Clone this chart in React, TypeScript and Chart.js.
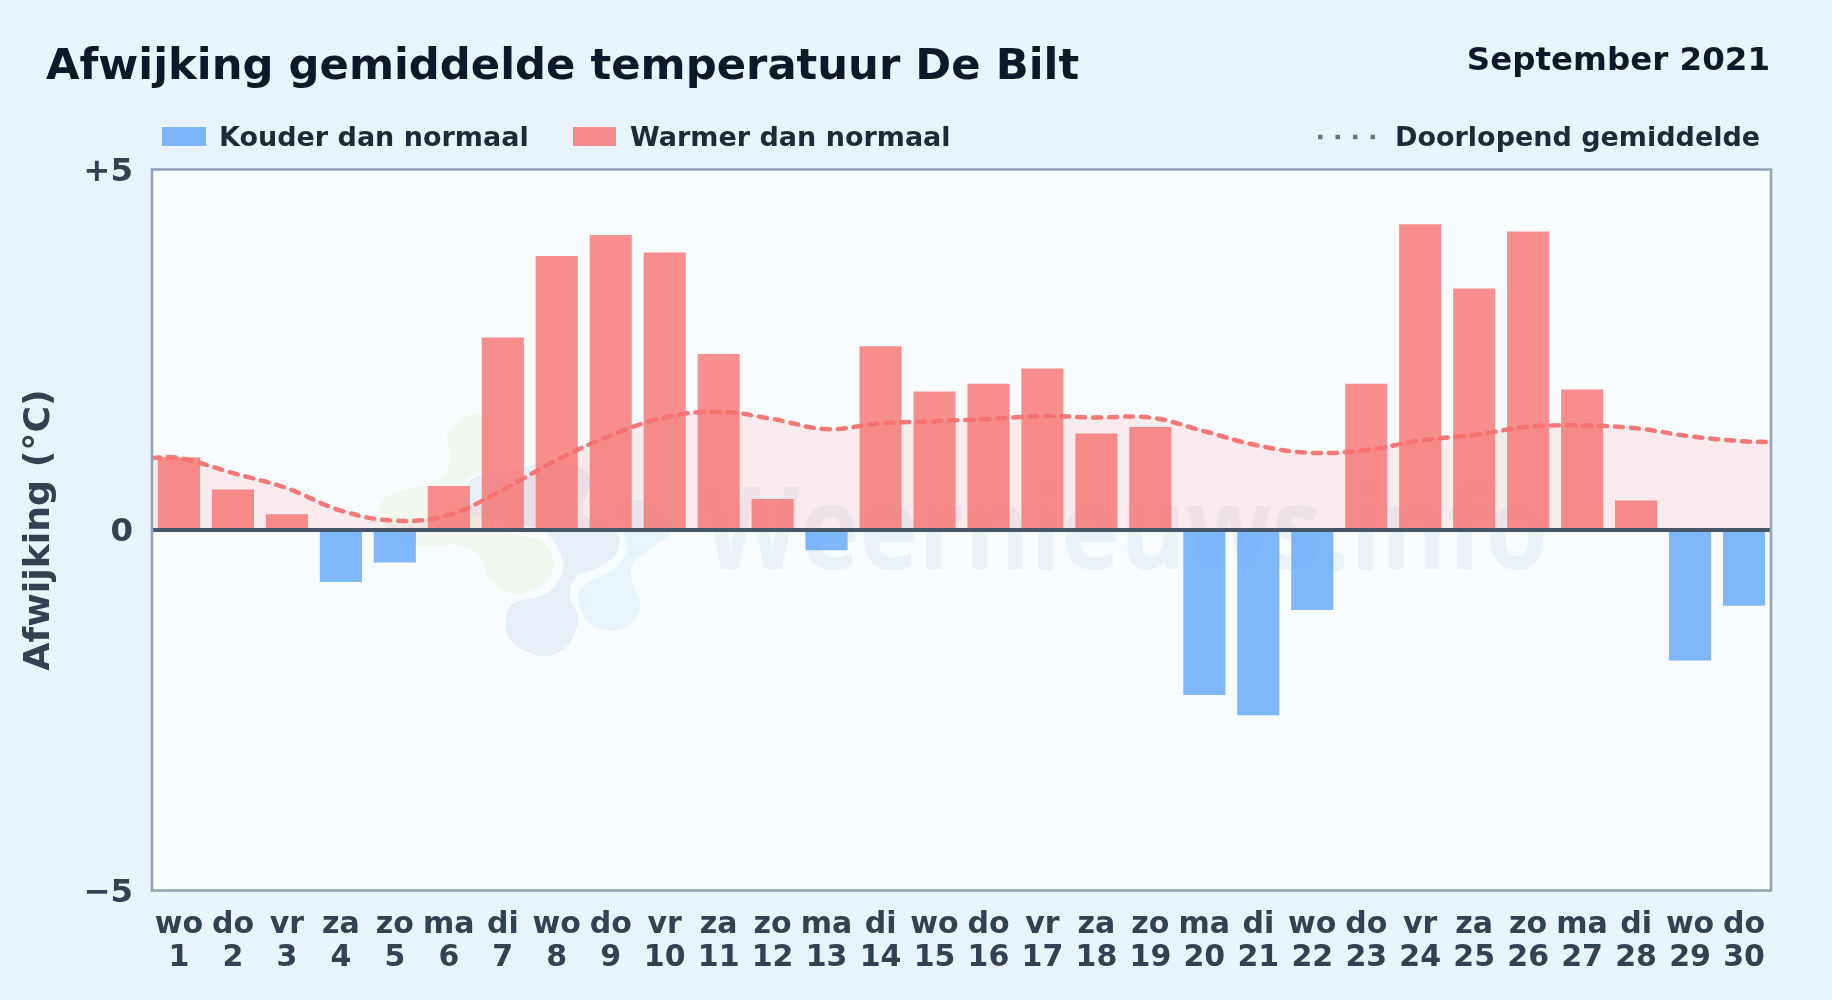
import React, { useEffect, useRef } from "react";
import { Chart, registerables } from "chart.js";

Chart.register(...registerables);

const weekdays = ["wo","do","vr","za","zo","ma","di","wo","do","vr","za","zo","ma","di","wo","do","vr","za","zo","ma","di","wo","do","vr","za","zo","ma","di","wo","do"];
const days = [1,2,3,4,5,6,7,8,9,10,11,12,13,14,15,16,17,18,19,20,21,22,23,24,25,26,27,28,29,30];
const deviation = [1.01,0.56,0.22,-0.72,-0.45,0.61,2.67,3.80,4.09,3.85,2.44,0.43,-0.28,2.55,1.92,2.03,2.24,1.34,1.43,-2.29,-2.57,-1.11,2.03,4.24,3.35,4.14,1.95,0.41,-1.81,-1.05];
const runningMeanX = [0.5,1,2,3,4,5,6,7,8,9,10,11,12,13,14,15,16,17,18,19,20,21,22,23,24,25,26,27,28,29,30,30.5];
const runningMean = [1.0,1.0,0.79,0.58,0.27,0.13,0.21,0.56,0.97,1.31,1.56,1.64,1.54,1.40,1.48,1.51,1.54,1.58,1.56,1.56,1.37,1.17,1.07,1.11,1.24,1.32,1.43,1.45,1.41,1.30,1.23,1.22];
const yTicks = [-5, 0, 5];
const yTickLabels = ["\u22125", "0", "+5"];

const FONT = '"DejaVu Sans", sans-serif';
const COLD = "rgba(96,165,250,0.8)";
const WARM = "rgba(248,113,113,0.8)";

const greenBlob = [[340,72],[400,120],[380,230],[330,260],[300,330],[420,420],[540,450],[582,520],[540,590],[460,612],[400,580],[350,490],[280,465],[190,470],[100,440],[60,360],[90,315],[190,285],[255,255],[270,190],[265,130]];
const greyBlob = [[345,262],[450,240],[600,215],[690,260],[670,370],[770,425],[770,490],[720,530],[650,560],[630,620],[655,690],[620,770],[545,798],[460,760],[437,700],[460,640],[560,610],[610,530],[560,430],[450,400],[330,370],[320,300]];
const blueBlob = [[830,330],[910,380],[930,430],[880,470],[820,520],[815,570],[842,650],[800,710],[740,722],[680,690],[655,620],[680,580],[760,540],[800,480],[790,425],[780,360]];

function blob(ctx: CanvasRenderingContext2D, pts: number[][], color: string) {
  const p = pts.map(([x, y]) => [360 + x / 3, 390 + y / 3]);
  const n = p.length;
  ctx.beginPath();
  ctx.moveTo(p[0][0], p[0][1]);
  for (let i = 0; i < n; i++) {
    const a = p[(i - 1 + n) % n], b = p[i], c = p[(i + 1) % n], d = p[(i + 2) % n];
    ctx.bezierCurveTo(b[0] + (c[0] - a[0]) / 6, b[1] + (c[1] - a[1]) / 6, c[0] - (d[0] - b[0]) / 6, c[1] - (d[1] - b[1]) / 6, c[0], c[1]);
  }
  ctx.closePath();
  ctx.fillStyle = color;
  ctx.fill();
}

const decorPlugin = {
  id: "decor",
  beforeDraw(chart: any) {
    const { ctx, chartArea: a, width, height } = chart;
    ctx.save();
    ctx.fillStyle = "#e9f3fc";
    ctx.fillRect(0, 0, width, height);
    ctx.fillStyle = "#f8fcff";
    ctx.fillRect(a.left, a.top, a.right - a.left, a.bottom - a.top);
    blob(ctx, greenBlob, "#f2f8f0");
    blob(ctx, greyBlob, "#e7f0f8");
    blob(ctx, blueBlob, "#e8f4fe");
    ctx.fillStyle = "rgba(37,99,170,0.06)";
    ctx.font = `700 115px "Open Sans", sans-serif`;
    ctx.textAlign = "left";
    ctx.textBaseline = "alphabetic";
    ctx.fillText("Weernieuws.info", 703, 569, 845);

    ctx.fillStyle = "#0f172a";
    ctx.font = `bold 43.3px ${FONT}`;
    ctx.fillText("Afwijking gemiddelde temperatuur De Bilt", 46, 79);
    ctx.font = `bold 32.5px ${FONT}`;
    ctx.textAlign = "right";
    ctx.fillText("September 2021", 1770, 70);

    ctx.textAlign = "left";
    ctx.font = `bold 27px ${FONT}`;
    ctx.fillStyle = COLD;
    ctx.fillRect(162, 127, 44, 19);
    ctx.fillStyle = WARM;
    ctx.fillRect(573, 127, 43, 19);
    ctx.fillStyle = "#1e293b";
    ctx.fillText("Kouder dan normaal", 219, 146);
    ctx.fillText("Warmer dan normaal", 630, 146);
    ctx.fillText("Doorlopend gemiddelde", 1395, 146);
    ctx.strokeStyle = "#64748b";
    ctx.lineWidth = 4.5;
    ctx.setLineDash([4.5, 13]);
    ctx.beginPath();
    ctx.moveTo(1318, 137);
    ctx.lineTo(1375, 137);
    ctx.stroke();
    ctx.restore();
  },
  afterDraw(chart: any) {
    const { ctx, chartArea: a } = chart;
    ctx.save();
    ctx.strokeStyle = "#94a3b8";
    ctx.lineWidth = 2.6;
    ctx.strokeRect(a.left, a.top, a.right - a.left, a.bottom - a.top);
    ctx.restore();
  },
};

export default function App() {
  const ref = useRef<HTMLCanvasElement>(null);
  useEffect(() => {
    const chart = new Chart(ref.current as HTMLCanvasElement, {
      type: "bar",
      data: {
        datasets: [
          {
            type: "line",
            label: "Doorlopend gemiddelde",
            data: runningMeanX.map((x, i) => ({ x, y: runningMean[i] })),
            borderColor: "rgba(248,113,113,0.95)",
            backgroundColor: "rgba(248,113,113,0.13)",
            borderWidth: 4.5,
            borderDash: [8, 8],
            borderCapStyle: "round",
            pointRadius: 0,
            tension: 0.4,
            fill: "origin",
            order: 0,
          },
          {
            label: "Kouder dan normaal",
            data: days.map((x, i) => ({ x, y: deviation[i] })).filter((d) => d.y < 0),
            backgroundColor: COLD,
            barPercentage: 0.78,
            categoryPercentage: 1,
            grouped: false,
            order: 1,
          },
          {
            label: "Warmer dan normaal",
            data: days.map((x, i) => ({ x, y: deviation[i] })).filter((d) => d.y >= 0),
            backgroundColor: WARM,
            barPercentage: 0.78,
            categoryPercentage: 1,
            grouped: false,
            order: 1,
          },
        ],
      } as any,
      options: {
        responsive: false,
        animation: false,
        devicePixelRatio: 1,
        layout: { padding: { top: 169.5, right: 61, left: 0, bottom: 0 } },
        plugins: { legend: { display: false }, title: { display: false }, tooltip: { enabled: false } },
        scales: {
          x: {
            type: "linear",
            offset: false,
            min: 0.5,
            max: 30.5,
            afterBuildTicks: (s: any) => { s.ticks = days.map((value) => ({ value })); },
            afterFit: (s: any) => { s.height = 109.5; },
            grid: { display: false },
            border: { display: false },
            ticks: {
              autoSkip: false,
              maxRotation: 0,
              padding: 10,
              color: "#334155",
              font: { family: FONT, weight: "bold", size: 30, lineHeight: 1.1 },
              callback: (v: any) => [weekdays[v - 1], String(v)],
            },
          },
          y: {
            min: -5,
            max: 5,
            afterBuildTicks: (s: any) => { s.ticks = yTicks.map((value) => ({ value })); },
            afterFit: (s: any) => { s.width = 152; },
            border: { display: false },
            grid: {
              z: 1,
              drawTicks: false,
              lineWidth: 4,
              color: (c: any) => (c.tick && c.tick.value === 0 ? "#475569" : "rgba(0,0,0,0)"),
            },
            ticks: {
              padding: 19,
              labelOffset: 3,
              color: "#334155",
              font: { family: FONT, weight: "bold", size: 32.4 },
              callback: (v: any) => yTickLabels[yTicks.indexOf(v)],
            },
            title: {
              display: true,
              text: "Afwijking (\u00b0C)",
              color: "#334155",
              font: { family: FONT, weight: "bold", size: 36.3 },
              padding: { top: 18, bottom: 0 },
            },
          },
        },
      } as any,
      plugins: [decorPlugin as any],
    });
    return () => chart.destroy();
  }, []);
  return (
    <>
      <style>{`html,body{margin:0;padding:0;background:#e9f3fc;overflow:hidden}`}</style>
      <canvas ref={ref} width={1832} height={1000} style={{ display: "block" }} />
    </>
  );
}
